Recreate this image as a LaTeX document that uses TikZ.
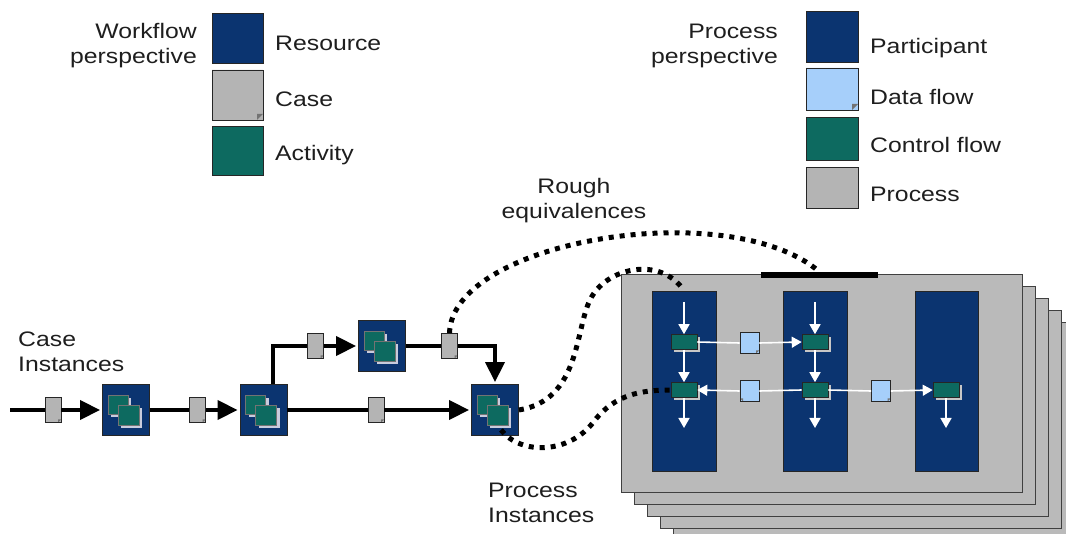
\documentclass[tikz,border=0pt]{standalone}
\usepackage{fontspec}
\setmainfont[FakeStretch=1.18]{Liberation Sans}
\usetikzlibrary{arrows.meta,shapes.misc,shadows}

\definecolor{resblue}{HTML}{0B3470}
\definecolor{actteal}{HTML}{0D6A60}
\definecolor{casegray}{HTML}{B4B4B4}
\definecolor{datablue}{HTML}{A6CFFA}
\definecolor{sheetgray}{HTML}{BABABA}
\definecolor{inkgray}{HTML}{1E1E1E}
\definecolor{shadowlav}{HTML}{C9CCDD}

\tikzset{
  txt/.style={font=\fontsize{21}{25}\selectfont, text=inkgray, inner sep=0pt},
  box/.style={draw=black!85, line width=0.8pt, inner sep=0pt},
  resbox/.style={box, fill=resblue, minimum width=47pt, minimum height=51pt,
    path picture={
      \begin{scope}[shift={(path picture bounding box.center)}]
        \fill[shadowlav] (-15pt,12pt) rectangle (5pt,-7pt);
        \filldraw[fill=actteal, draw=black!55, line width=0.4pt] (-18pt,15pt) rectangle (2pt,-4pt);
        \fill[shadowlav] (-5pt,2pt) rectangle (16pt,-18pt);
        \filldraw[fill=actteal, draw=black!55, line width=0.4pt] (-8pt,5pt) rectangle (13pt,-15pt);
      \end{scope}}},
  note/.style={box, chamfered rectangle, chamfered rectangle corners=south east,
    chamfered rectangle xsep=#1, chamfered rectangle ysep=#1,
    path picture={\fill[black!55] ([xshift=-#1]path picture bounding box.south east)
      -- ++(0pt,#1) -- ++(#1,0pt) -- cycle;}},
  noteL/.style={box, chamfered rectangle, chamfered rectangle corners=south west,
    chamfered rectangle xsep=#1, chamfered rectangle ysep=#1,
    path picture={\fill[black!55] ([xshift=#1]path picture bounding box.south west)
      -- ++(0pt,#1) -- ++(-#1,0pt) -- cycle;}},
  casetok/.style={note=3pt, fill=casegray, minimum width=16pt, minimum height=25pt},
  datatok/.style={note=3pt, fill=datablue, minimum width=19pt, minimum height=21pt},
  datatokL/.style={noteL=3pt, fill=datablue, minimum width=19pt, minimum height=21pt},
  ctrl/.style={box, fill=actteal, line width=0.6pt, minimum width=26pt, minimum height=15pt,
    drop shadow={shadow xshift=3pt, shadow yshift=-3pt, fill=black!22, opacity=1}},
  lane/.style={box, fill=resblue, minimum width=64pt, minimum height=180pt},
  sheet/.style={fill=sheetgray, draw=black!75, line width=0.9pt},
  flow/.style={line width=3.5pt, black},
  flowarr/.style={flow, -{Triangle[length=20pt,width=19pt]}, shorten >=2pt},
  wflow/.style={draw=white, line width=1.6pt},
  wflowarr/.style={wflow, -{Triangle[length=10pt,width=11pt]}},
  equiv/.style={line width=5pt, dash pattern=on 5pt off 6pt, black}
}

\begin{document}
\begin{tikzpicture}[x=1pt,y=-1pt]
\useasboundingbox (0,0) rectangle (1066,534);
\clip (0,0) rectangle (1066,534);

% ---------- workflow legend ----------
\node[txt, align=right, anchor=east] (wfhead) at (197,46) {Workflow\\perspective};
\node[resbox, minimum width=51pt, minimum height=50pt, path picture={}] (lgres) at (237.5,38) {};
\node[casetok, minimum width=51pt, minimum height=50pt, note=6pt] (lgcase) at (237.5,95) {};
\node[box, fill=actteal, minimum width=51pt, minimum height=49pt] (lgact) at (237.5,150.5) {};
\node[txt, anchor=west] (lgrest) at (275,43) {Resource};
\node[txt, anchor=west] (lgcaset) at (275,99) {Case};
\node[txt, anchor=west] (lgactt) at (275,155) {Activity};

% ---------- process legend ----------
\node[txt, align=right, anchor=east] (pphead) at (778,46) {Process\\perspective};
\node[box, fill=resblue, minimum width=52pt, minimum height=51pt] (lgpart) at (832,36.5) {};
\node[datatok, minimum width=52pt, minimum height=42pt, note=6pt] (lgdata) at (832,89) {};
\node[box, fill=actteal, minimum width=52pt, minimum height=43pt] (lgctrl) at (832,138.5) {};
\node[box, fill=casegray, minimum width=52pt, minimum height=41pt] (lgproc) at (832,187.5) {};
\node[txt, anchor=west] (lgpartt) at (870,48) {Participant};
\node[txt, anchor=west] (lgdatat) at (870,97) {Data flow};
\node[txt, anchor=west] (lgctrlt) at (870,145) {Control flow};
\node[txt, anchor=west] (lgproct) at (870,194) {Process};

% ---------- free labels ----------
\node[txt, align=center] (rough) at (574,201) {Rough\\equivalences};
\node[txt, align=left, anchor=west] (caseinst) at (18,352) {Case\\Instances};
\node[txt, align=left, anchor=west] (procinst) at (488,503) {Process\\Instances};

% ---------- stack of process sheets ----------
\foreach \k in {4,3,2,1,0}
  \draw[sheet] (621+13*\k,274+12*\k) rectangle (1022+13*\k,492+12*\k);
\node[fill=black, inner sep=0pt, minimum width=117pt, minimum height=6pt] (bar) at (819.5,275) {};

% participant lanes
\node[lane] (lane1) at (684,381) {};
\node[lane] (lane2) at (815,381) {};
\node[lane, minimum width=63pt] (lane3) at (946.5,381) {};

% control flow steps
\node[ctrl] (c1a) at (684,342) {};
\node[ctrl] (c1b) at (684,390) {};
\node[ctrl] (c2a) at (815,342) {};
\node[ctrl] (c2b) at (815,390) {};
\node[ctrl] (c3b) at (946,390) {};

% data flow tokens
\node[datatok] (d1) at (749.5,343) {};
\node[datatokL] (d2) at (749.5,391) {};
\node[datatok] (d3) at (881,391) {};

\coordinate (top1) at (684,302);
\coordinate (top2) at (815,302);
\coordinate (bot1) at (684,428);
\coordinate (bot2) at (815,428);
\coordinate (bot3) at (946,428);

\draw[wflowarr] (top1) -- (c1a.north);
\draw[wflowarr] (c1a.south) -- (c1b.north);
\draw[wflowarr] (c1b.south) -- (bot1);
\draw[wflowarr] (top2) -- (c2a.north);
\draw[wflowarr] (c2a.south) -- (c2b.north);
\draw[wflowarr] (c2b.south) -- (bot2);
\draw[wflowarr] (c3b.south) -- (bot3);
\draw[wflow] (c1a.east) -- (d1.west);
\draw[wflowarr] (d1.east) -- (c2a.west);
\draw[wflow] (c2b.west) -- (d2.east);
\draw[wflowarr] (d2.west) -- (c1b.east);
\draw[wflow] (c2b.east) -- (d3.west);
\draw[wflowarr] (d3.east) -- (c3b.west);

% ---------- workflow with case instances ----------
\coordinate (entry) at (10,410);
\node[casetok] (t1) at (53,410) {};
\node[resbox] (b1) at (126,410) {};
\node[casetok] (t2) at (197.5,410) {};
\node[resbox] (b2) at (263.5,410) {};
\node[casetok] (t3) at (315.5,346) {};
\node[resbox] (b3) at (382,346) {};
\node[casetok] (t4) at (449.5,346) {};
\node[casetok] (t5) at (376,410) {};
\node[resbox] (b4) at (495,410) {};

\draw[flow] (entry) -- (t1.west);
\draw[flowarr] (t1.east) -- (b1.west);
\draw[flow] (b1.east) -- (t2.west);
\draw[flowarr] (t2.east) -- (b2.west);
\draw[flow] (b2.70) |- (t3.west);
\draw[flowarr] (t3.east) -- (b3.west);
\draw[flow] (b3.east) -- (t4.west);
\draw[flowarr] (t4.east) -| (b4.north);
\draw[flow] (b2.east) -- (t5.west);
\draw[flowarr] (t5.east) -- (b4.west);

% ---------- rough equivalences ----------
\draw[equiv] (t4.north) .. controls (452,240) and (730,195) .. (bar.north);
\draw[equiv] (b4.east) .. controls (580,400) and (575,330) .. (590,300)
  .. controls (605,268) and (660,255) .. (lane1.north);
\draw[equiv] ([xshift=6pt,yshift=6pt]b4.south) .. controls (520,455) and (570,455) .. (595,420)
  .. controls (615,395) and (640,390) .. (c1b.west);
\end{tikzpicture}
\end{document}
